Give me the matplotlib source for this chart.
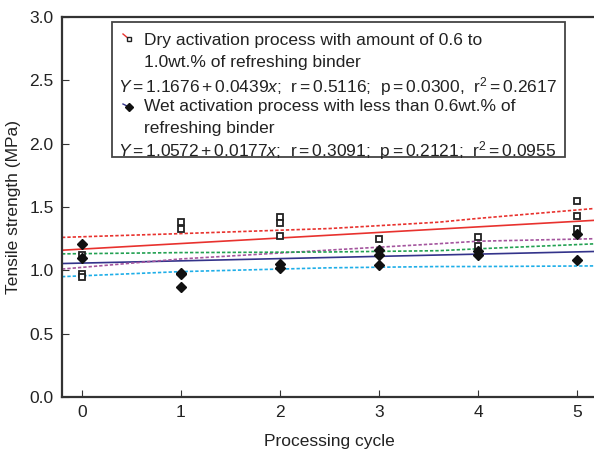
import matplotlib
matplotlib.use("Agg")
import matplotlib.pyplot as plt
from matplotlib.lines import Line2D
from matplotlib.patches import Rectangle
import numpy as np

plt.rcParams['font.family'] = ['Liberation Sans', 'DejaVu Sans']
plt.rcParams['mathtext.fontset'] = 'custom'
plt.rcParams['mathtext.rm'] = 'Liberation Sans'
plt.rcParams['mathtext.it'] = 'Liberation Sans:italic'

# measured points (processing cycle, tensile strength in MPa)
dry_x = [0, 0, 0, 1, 1, 2, 2, 2, 3, 4, 4, 5, 5, 5]
dry_y = [1.12, 0.97, 0.95, 1.38, 1.33, 1.42, 1.37, 1.27, 1.25, 1.26, 1.19, 1.55, 1.43, 1.33]
wet_x = [0, 0, 1, 1, 1, 2, 2, 3, 3, 3, 4, 4, 5, 5]
wet_y = [1.21, 1.10, 0.98, 0.97, 0.87, 1.05, 1.02, 1.16, 1.12, 1.04, 1.15, 1.12, 1.29, 1.08]

# regression lines (from legend)
dry_intercept, dry_slope = 1.1676, 0.0439
wet_intercept, wet_slope = 1.0572, 0.0177

# band lines
band_x = [-0.2, 1.0, 2.5, 3.6, 4.0, 5.2]
dry_upper = [1.26, 1.29, 1.33, 1.38, 1.41, 1.49]
dry_lower = [1.01, 1.09, 1.16, 1.21, 1.23, 1.25]
wet_upper = [1.13, 1.14, 1.145, 1.155, 1.17, 1.21]
wet_lower = [0.95, 0.99, 1.02, 1.03, 1.03, 1.035]

W, H = 594, 450
fig = plt.figure(figsize=(W / 100, H / 100), dpi=100)
ax = fig.add_axes([62 / W, 53 / H, (597 - 62) / W, 380 / H])

xl = np.array([-0.2, 5.2])
ax.plot(xl, dry_intercept + dry_slope * xl, color='#e8322e', lw=1.2)
ax.plot(xl, wet_intercept + wet_slope * xl, color='#33338a', lw=1.2)
ax.plot(band_x, dry_upper, color='#e8322e', lw=1.2, ls=(0, (2, 1.2)))
ax.plot(band_x, dry_lower, color='#a4559e', lw=1.2, ls=(0, (2, 1.2)))
ax.plot(band_x, wet_upper, color='#23a152', lw=1.2, ls=(0, (2, 1.2)))
ax.plot(band_x, wet_lower, color='#1eaee8', lw=1.2, ls=(0, (2, 1.2)))

ax.plot(dry_x, dry_y, ls='none', marker='s', ms=5, mfc='white', mec='#222222', mew=1.3, zorder=5)
ax.plot(wet_x, wet_y, ls='none', marker='D', ms=5.2, mfc='#111111', mec='#111111', zorder=5)

ax.set_xlim(-0.2, 5.2)
ax.set_ylim(0, 3.0)
ax.set_xticks(range(6))
ax.set_yticks(np.arange(0, 3.01, 0.5))
ax.set_yticklabels([f"{v:.1f}" for v in np.arange(0, 3.01, 0.5)])
ax.tick_params(direction='in', labelsize=12.5, length=5, pad=6, color='#333333', labelcolor='#222222')
for s in ax.spines.values():
    s.set_linewidth(1.6)
    s.set_color('#333333')
ax.set_xlabel('Processing cycle', fontsize=12.5, labelpad=10, color='#222222')
ax.set_ylabel('Tensile strength (MPa)', fontsize=12.5, labelpad=6, color='#222222')


def fx(px):
    return px / W


def fy(py):
    return 1 - py / H


# legend box
fig.add_artist(Rectangle((fx(112), fy(157)), fx(565) - fx(112), (157 - 22) / H,
                         transform=fig.transFigure, fill=True, fc='white',
                         ec='#444444', lw=1.3, zorder=10))
fig.add_artist(Line2D([fx(123), fx(129)], [fy(34), fy(39)], transform=fig.transFigure,
                      color='#e8322e', lw=1, zorder=11))
fig.add_artist(Line2D([fx(129)], [fy(39)], transform=fig.transFigure, marker='s', ms=3,
                      mfc='white', mec='#222222', mew=1, zorder=12))
fig.add_artist(Line2D([fx(123), fx(129)], [fy(104), fy(107)], transform=fig.transFigure,
                      color='#33338a', lw=1, zorder=11))
fig.add_artist(Line2D([fx(129)], [fy(107)], transform=fig.transFigure, marker='D', ms=4.5,
                      mfc='#111111', mec='#111111', zorder=12))

legend_lines = [
    (144, 40, "Dry activation process with amount of 0.6 to"),
    (144, 62, "1.0wt.% of refreshing binder"),
    (118, 87, r"$Y=1.1676+0.0439x$;  r$=$0.5116;  p$=$0.0300,  r$^{\mathregular{2}}=$0.2617"),
    (144, 107, "Wet activation process with less than 0.6wt.% of"),
    (144, 129, "refreshing binder"),
    (118, 151, r"$Y=1.0572+0.0177x$;  r$=$0.3091;  p$=$0.2121;  r$^{\mathregular{2}}=$0.0955"),
]
for px, py, t in legend_lines:
    fig.text(fx(px), fy(py), t, fontsize=12.5, va='center', ha='left', color='#222222', zorder=12)

fig.savefig('out.png', dpi=100)
